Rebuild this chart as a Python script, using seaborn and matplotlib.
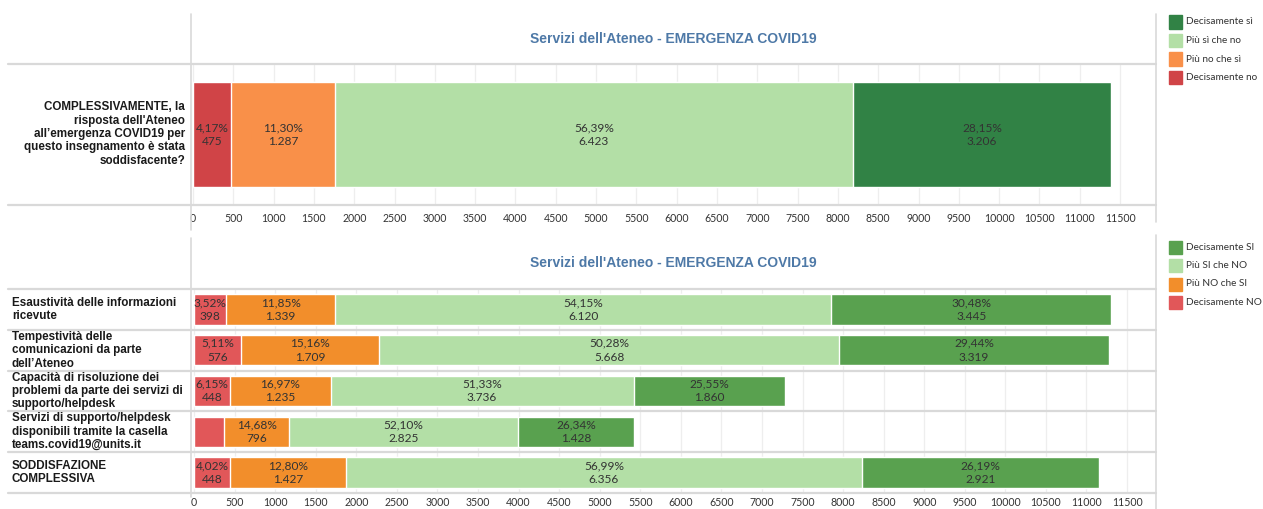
import matplotlib
matplotlib.use('Agg')
import matplotlib.pyplot as plt
from matplotlib.lines import Line2D
from matplotlib.patches import Rectangle
import numpy as np
import seaborn as sns

# top chart
top_question = ["COMPLESSIVAMENTE, la\nrisposta dell'Ateneo\nall\u2019emergenza COVID19 per\nquesto insegnamento è stata\nsoddisfacente?"]
top_levels = ['Decisamente no', 'Più no che sì', 'Più sì che no', 'Decisamente sì']
top_counts = [475, 1287, 6423, 3206]
top_pct = ['4,17%', '11,30%', '56,39%', '28,15%']
top_colors = ['#d04447', '#f99049', '#b3dfa6', '#318245']

# bottom chart
items = ['Esaustività delle informazioni\nricevute',
         'Tempestività delle\ncomunicazioni da parte\ndell\u2019Ateneo',
         'Capacità di risoluzione dei\nproblemi da parte dei servizi di\nsupporto/helpdesk',
         'Servizi di supporto/helpdesk\ndisponibili tramite la casella\nteams.covid19@units.it',
         'SODDISFAZIONE\nCOMPLESSIVA']
bottom_levels = ['Decisamente NO', 'Più NO che SI', 'Più SI che NO', 'Decisamente SI']
dec_no = [398, 576, 448, 373, 448]
piu_no = [1339, 1709, 1235, 796, 1427]
piu_si = [6120, 5668, 3736, 2825, 6356]
dec_si = [3445, 3319, 1860, 1428, 2921]
dec_no_pct = ['3,52%', '5,11%', '6,15%', None, '4,02%']
piu_no_pct = ['11,85%', '15,16%', '16,97%', '14,68%', '12,80%']
piu_si_pct = ['54,15%', '50,28%', '51,33%', '52,10%', '56,99%']
dec_si_pct = ['30,48%', '29,44%', '25,55%', '26,34%', '26,19%']
bottom_colors = ['#e15759', '#f28e2b', '#b3dfa6', '#59a14f']

title = "Servizi dell'Ateneo - EMERGENZA COVID19"

sns.set_style('white')
plt.rcParams['font.family'] = ['Liberation Sans', 'DejaVu Sans']

W, H = 1263, 509
fig = plt.figure(figsize=(W / 100, H / 100), dpi=100)


def box(x0, y0, x1, y1):
    return [x0 / W, 1 - y1 / H, (x1 - x0) / W, (y1 - y0) / H]


def hline(y, x0=8, x1=1156, color='#d9d9d9', lw=1.6):
    fig.add_artist(Line2D([x0 / W, x1 / W], [1 - y / H, 1 - y / H], color=color, lw=lw))


def vline(x, y0, y1, color='#d9d9d9', lw=1.2):
    fig.add_artist(Line2D([x / W, x / W], [1 - y0 / H, 1 - y1 / H], color=color, lw=lw))


def fmt(v):
    return f'{v:,}'.replace(',', '.')


def stacked(ax, cats, layers, pcts, colors):
    cum = np.cumsum(np.array(layers), axis=0)
    # draw from the total down so each shorter layer covers the previous one
    for i in range(len(layers) - 1, -1, -1):
        sns.barplot(x=cum[i], y=cats, order=cats, color=colors[i], orient='h',
                    width=0.745, saturation=1, ax=ax, zorder=2)
    for i, layer in enumerate(layers):
        for j, v in enumerate(layer):
            if pcts[i][j] is None:
                continue
            ax.text(cum[i][j] - v / 2, j, f'{pcts[i][j]}\n{fmt(v)}', ha='center', va='center',
                    fontsize=8.6, color='#333333', family=['Lato', 'DejaVu Sans'], zorder=3,
                    linespacing=1.3)


def style_axis(ax, xmin, xmax, n, pad):
    ax.set_xlim(xmin, xmax)
    ax.set_ylim(n - 0.5, -0.5)
    ax.set_xticks(np.arange(0, 11501, 500))
    ax.set_xticklabels([str(t) for t in range(0, 11501, 500)], fontsize=7.6,
                       color='#333333', family=['Lato', 'DejaVu Sans'])
    ax.tick_params(axis='x', length=0, pad=pad)
    ax.set_yticks([])
    ax.set_xlabel('')
    ax.set_ylabel('')
    for s in ax.spines.values():
        s.set_visible(False)
    ax.grid(axis='x', color='#eeeeee', lw=0.9, zorder=0)
    ax.set_axisbelow(True)


# top panel
ax1 = fig.add_axes(box(191, 64, 1156, 205))
stacked(ax1, top_question, [[c] for c in top_counts], [[p] for p in top_pct], top_colors)
style_axis(ax1, -25, 11946, 1, 6)
fig.text(185 / W, 1 - 134 / H, top_question[0], ha='right', va='center', fontsize=8.4,
         fontweight='bold', color='#1a1a1a', linespacing=1.15)
fig.text(673.5 / W, 1 - 39 / H, title, ha='center', va='center', fontsize=10,
         fontweight='bold', color='#4e79a7')
hline(64)
hline(205)
vline(191, 14, 230)
vline(1156, 14, 222)

# bottom panel
ax2 = fig.add_axes(box(191, 289, 1156, 493))
stacked(ax2, items, [dec_no, piu_no, piu_si, dec_si],
        [dec_no_pct, piu_no_pct, piu_si_pct, dec_si_pct], bottom_colors)
style_axis(ax2, -37, 11857, 5, 3)
row_h = (493 - 289) / 5
for j, lab in enumerate(items):
    fig.text(12 / W, 1 - (289 + row_h * (j + 0.5)) / H, lab, ha='left', va='center',
             fontsize=8.4, fontweight='bold', color='#1a1a1a', linespacing=1.15)
fig.text(673.5 / W, 1 - 263 / H, title, ha='center', va='center', fontsize=10,
         fontweight='bold', color='#4e79a7')
for j in range(6):
    hline(289 + row_h * j)
vline(191, 238, 497)
vline(1156, 235, 509)

# legends
def legend(levels, colors, y0):
    for k, (lab, col) in enumerate(zip(levels, colors)):
        y = y0 + k * 18.5
        fig.add_artist(Rectangle((1169 / W, 1 - (y + 6.5) / H), 13 / W, 13 / H,
                                 transform=fig.transFigure, color=col))
        fig.text(1186 / W, 1 - y / H, lab, ha='left', va='center', fontsize=7.2,
                 color='#333333', family=['Lato', 'DejaVu Sans'])


legend(top_levels[::-1], top_colors[::-1], 22)
legend(bottom_levels[::-1], bottom_colors[::-1], 247)

fig.savefig('out.png', dpi=100)
